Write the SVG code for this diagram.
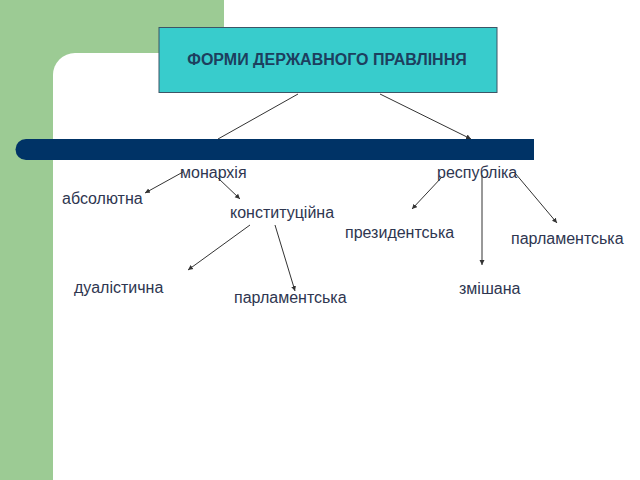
<svg xmlns="http://www.w3.org/2000/svg" width="640" height="480" viewBox="0 0 640 480">
<defs>
<marker id="ah" markerWidth="6" markerHeight="6" refX="5" refY="3" orient="auto" markerUnits="userSpaceOnUse">
<path d="M0,0.5 L5,3 L0,5.5 z" fill="#333"/>
</marker>
<style>
.t{font-family:"Liberation Sans",Arial,sans-serif;font-size:16px;fill:#2e3650}
.c line{stroke:#333;stroke-width:1;marker-end:url(#ah)}
</style>
</defs>
<rect width="640" height="480" fill="#fff"/>
<rect x="0" y="0" width="224" height="480" fill="#9ccb94"/>
<rect x="53" y="53" width="620" height="460" rx="22" fill="#fff"/>
<path d="M26,139 H534 V160 H26 A10.5,10.5 0 0 1 26,139 z" fill="#003366"/>
<g id="title">
<rect x="159" y="27.5" width="338" height="65" fill="#38cccc" stroke="#3d5566" stroke-width="1"/>
<text x="327" y="65" text-anchor="middle" font-family="'Liberation Sans',Arial,sans-serif" font-size="16" font-weight="bold" fill="#1d3f5e">ФОРМИ ДЕРЖАВНОГО ПРАВЛІННЯ</text>
</g>
<g id="monarchy"><text class="t" x="180" y="178">монархія</text></g>
<g id="republic"><text class="t" x="437" y="178">республіка</text></g>
<g id="absolute"><text class="t" x="62" y="204">абсолютна</text></g>
<g id="constitutional"><text class="t" x="230" y="218">конституційна</text></g>
<g id="presidential"><text class="t" x="345" y="238">президентська</text></g>
<g id="parl-rep"><text class="t" x="511" y="244">парламентська</text></g>
<g id="dualistic"><text class="t" x="74" y="293">дуалістична</text></g>
<g id="parl-mon"><text class="t" x="234" y="303">парламентська</text></g>
<g id="mixed"><text class="t" x="459" y="294">змішана</text></g>
<g id="connectors" class="c">
<line x1="298" y1="94" x2="218" y2="139" style="marker-end:none"/>
<line x1="380" y1="94" x2="471" y2="139"/>
<line x1="183" y1="172" x2="145" y2="193"/>
<line x1="218" y1="178" x2="240" y2="199"/>
<line x1="250" y1="225" x2="188" y2="270"/>
<line x1="275" y1="225" x2="295" y2="291"/>
<line x1="442" y1="177" x2="412" y2="209"/>
<line x1="482" y1="175" x2="482" y2="265"/>
<line x1="515" y1="173" x2="557" y2="223"/>
</g>
</svg>
